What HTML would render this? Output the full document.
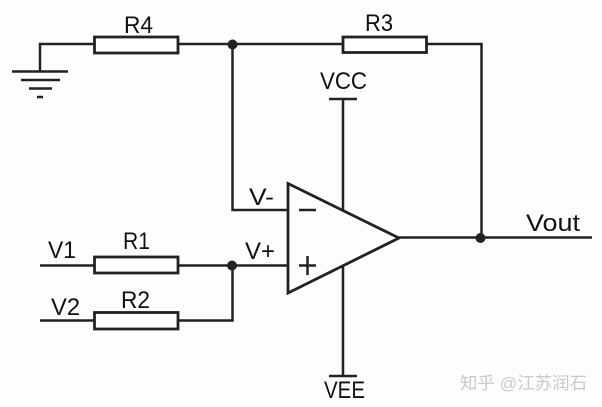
<!DOCTYPE html>
<html>
<head>
<meta charset="utf-8">
<style>
html,body{margin:0;padding:0;background:#fdfdfd;width:602px;height:407px;overflow:hidden}
svg{display:block}
text{font-family:"Liberation Sans","Noto Sans CJK SC",sans-serif;fill:#111;font-size:24.500px}
</style>
</head>
<body>
<svg width="602" height="407" viewBox="0 0 602 407" xmlns="http://www.w3.org/2000/svg">
<rect width="602" height="407" fill="#fdfdfd"/>
<g fill="none" stroke="#222" stroke-width="2.500" style="filter:blur(0.3px)">
  <!-- ground -->
  <path d="M94 44H40V71"/>
  <path d="M12 71.500H68M21 80H60M29 88.500H52M37 97H43"/>
  <!-- top rail -->
  <path d="M178 44H343M426 44H481.500V238"/>
  <path d="M232.500 44V210H288"/>
  <rect x="94.500" y="37" width="83.500" height="16" fill="#fff" stroke-width="2.800"/>
  <rect x="343" y="37" width="83.500" height="15.500" fill="#fff" stroke-width="2.800"/>
  <!-- inputs -->
  <path d="M40 265.500H94M178 265.500H288"/>
  <path d="M40 320.500H94M178 320.500H232.500V265"/>
  <rect x="94.500" y="257" width="83.500" height="16" fill="#fff" stroke-width="2.800"/>
  <rect x="94.500" y="312.500" width="83.500" height="16.500" fill="#fff" stroke-width="2.800"/>
  <!-- supply -->
  <path d="M343 99V210M329 99H357"/>
  <path d="M343 266V376M329 376H357"/>
  <!-- op amp -->
  <path d="M288 183.500L399 238L288 293Z" stroke-width="2.800" stroke-linejoin="miter"/>
  <path d="M299 210H316M299 265.500H316M307.500 256V275"/>
  <!-- output -->
  <path d="M399 237.500H592"/>
</g>
<g fill="#222" style="filter:blur(0.3px)">
  <circle cx="232.500" cy="44.500" r="5"/>
  <circle cx="232" cy="265.500" r="5"/>
  <circle cx="480.500" cy="238" r="5"/>
</g>
<text x="124" y="33" textLength="29" lengthAdjust="spacingAndGlyphs">R4</text>
<text x="365" y="31" textLength="28" lengthAdjust="spacingAndGlyphs">R3</text>
<text x="320" y="89" textLength="47" lengthAdjust="spacingAndGlyphs">VCC</text>
<text x="249" y="205" textLength="25" lengthAdjust="spacingAndGlyphs">V-</text>
<text x="245" y="259" textLength="30" lengthAdjust="spacingAndGlyphs">V+</text>
<text x="123" y="249" textLength="27" lengthAdjust="spacingAndGlyphs">R1</text>
<text x="121" y="308" textLength="29" lengthAdjust="spacingAndGlyphs">R2</text>
<text x="48" y="258" textLength="28" lengthAdjust="spacingAndGlyphs">V1</text>
<text x="51" y="315" textLength="29" lengthAdjust="spacingAndGlyphs">V2</text>
<text x="526" y="231" textLength="54" lengthAdjust="spacingAndGlyphs">Vout</text>
<text x="324" y="398" textLength="41" lengthAdjust="spacingAndGlyphs">VEE</text>
<text x="460" y="389" textLength="127" lengthAdjust="spacingAndGlyphs" style="font-size:17px;fill:#c9c9c9">知乎 @江苏润石</text>
</svg>
</body>
</html>
